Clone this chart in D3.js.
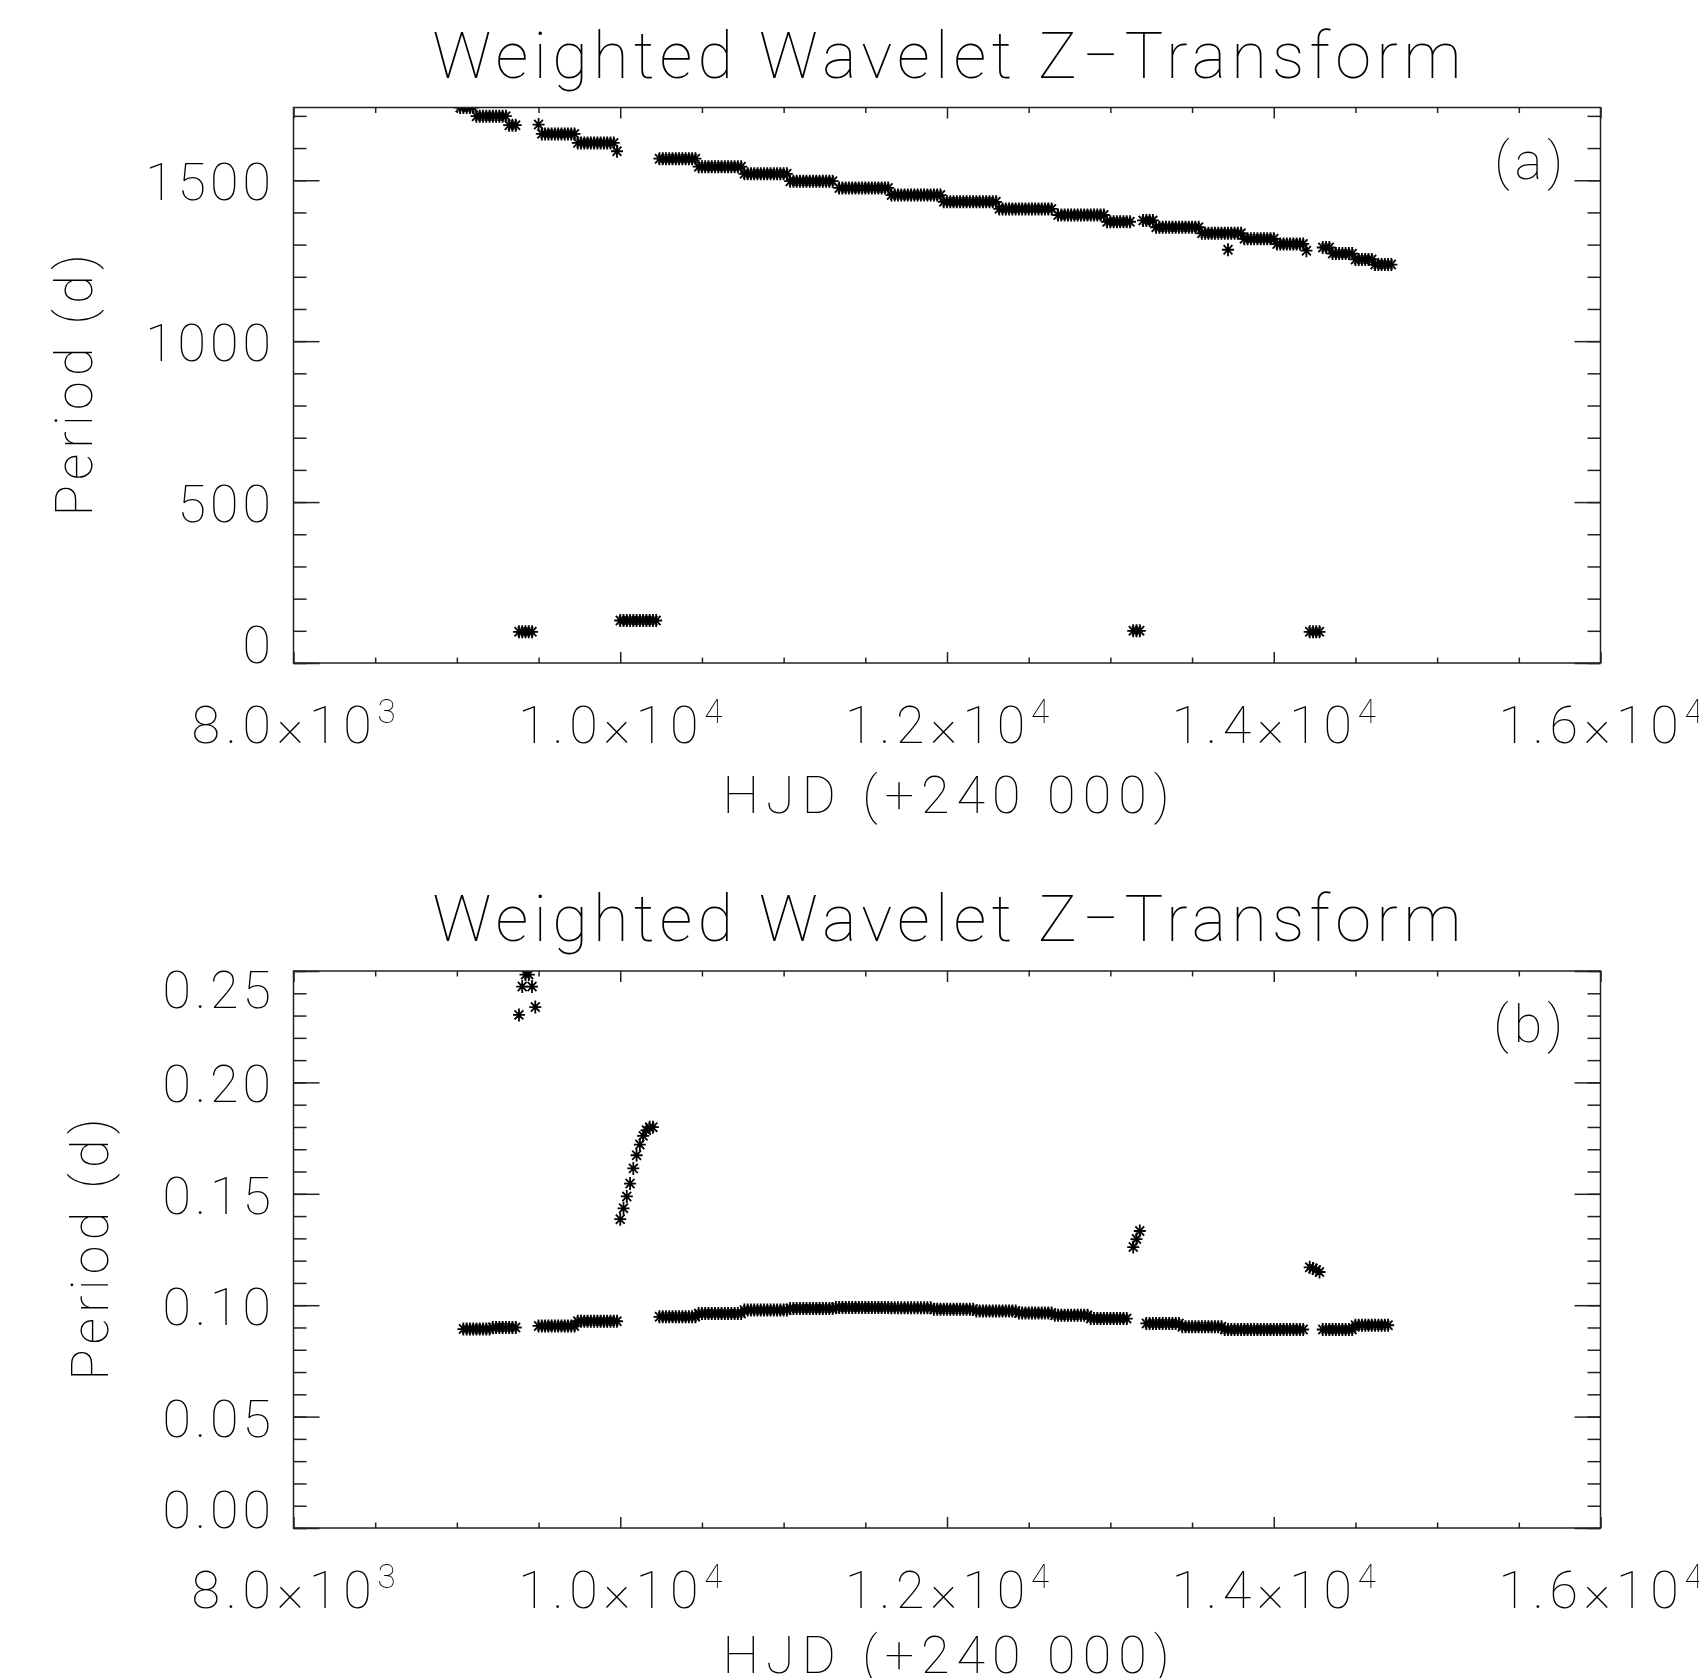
<!DOCTYPE html>
<html>
<head>
<meta charset="utf-8">
<script src="https://cdn.jsdelivr.net/npm/d3@7"></script>
<style>
  body { margin: 0; background: #fff; }
  svg#chart { will-change: transform; }
  svg text { font-family: Roboto, Lato, "DejaVu Sans", sans-serif; font-weight: 100; fill: #000; }
</style>
</head>
<body>
<svg id="chart" width="1699" height="1678"></svg>
<script>
/* Data */
var gridStep = 20; // WWZ time grid (days)

// x axis (shared)
var xDomain = [8000, 16000];
var xMajor = [8000, 10000, 12000, 14000, 16000];
var xMantissa = ["8.0", "1.0", "1.2", "1.4", "1.6"];
var xExponent = ["3", "4", "4", "4", "4"];

// panel (a): runs of constant period  [start HJD, end HJD, period]
var aRunStart  = [9020, 9120, 9320, 9500, 9520, 9740, 9980, 10240, 10480, 10760, 11040, 11340, 11660, 11980,
                  12320, 12680, 12980, 13200, 13280, 13560, 13720, 13820, 14020, 14200, 14300, 14360, 14500, 14620];
var aRunEnd    = [9100, 9300, 9360, 9500, 9720, 9960, 9980, 10460, 10740, 11020, 11300, 11640, 11960, 12300,
                  12640, 12960, 13120, 13260, 13540, 13800, 13720, 14000, 14180, 14200, 14340, 14480, 14600, 14720];
var aRunPeriod = [1726, 1699, 1671, 1673, 1644, 1616, 1590, 1567, 1542, 1520, 1497, 1476, 1454, 1433,
                  1411, 1392, 1371, 1375, 1354, 1335, 1284, 1318, 1302, 1281, 1291, 1272, 1254, 1238];
// panel (a): short-period detections
var aLowStart  = [9380, 10000, 13140, 14220];
var aLowEnd    = [9460, 10220, 13180, 14280];
var aLowPeriod = [97, 132, 100, 97];
var aYDomain = [0, 1726];
var aYMajor = [0, 500, 1000, 1500];
var aYLabels = ["0", "500", "1000", "1500"];

// panel (b): runs of constant period
var bRunStart  = [9040, 9220, 9500, 9740, 10240, 10480, 10760, 11040, 11320, 11660, 11920, 12180, 12440, 12660,
                  12880, 13220, 13440, 13700, 14300, 14500];
var bRunEnd    = [9200, 9360, 9720, 9980, 10460, 10740, 11020, 11300, 11640, 11900, 12160, 12420, 12640, 12860,
                  13100, 13420, 13680, 14180, 14480, 14700];
var bRunPeriod = [0.0893, 0.0900, 0.0907, 0.0928, 0.0948, 0.0963, 0.0978, 0.0985, 0.0990, 0.0988, 0.0982, 0.0974,
                  0.0965, 0.0955, 0.0940, 0.0918, 0.0903, 0.0891, 0.0891, 0.0910];
// panel (b): isolated detections
var bPtHJD    = [9380, 9400, 9420, 9440, 9460, 9480,
                 10000, 10020, 10040, 10060, 10080, 10100, 10120, 10140, 10160, 10180, 10200,
                 13140, 13160, 13180, 14220, 14240, 14260, 14280];
var bPtPeriod = [0.2303, 0.2430, 0.2484, 0.2484, 0.2430, 0.2338,
                 0.1386, 0.1435, 0.1488, 0.1546, 0.1614, 0.1673, 0.1721, 0.1760, 0.1785, 0.1799, 0.1799,
                 0.1261, 0.1297, 0.1333, 0.1170, 0.1165, 0.1158, 0.1149];
var bYDomain = [0, 0.25];
var bYMajor = [0, 0.05, 0.10, 0.15, 0.20, 0.25];
var bYLabels = ["0.00", "0.05", "0.10", "0.15", "0.20", "0.25"];

var titleText = "Weighted Wavelet Z\u2212Transform";
var xTitle = "HJD (+240 000)";
var yTitle = "Period (d)";

/* Layout */
var left = 293.5, right = 1600.5;
var star = "M-6,0H6M0,-6.5V6.5M-4.4,-4.6L4.4,4.6M-4.4,4.6L4.4,-4.6";

var svg = d3.select("svg#chart");

var x = d3.scaleLinear().domain(xDomain).range([left, right]);

function runsToPoints(starts, ends, periods) {
  var pts = [];
  starts.forEach(function (s, i) {
    d3.range(s, ends[i] + 1, gridStep).forEach(function (t) {
      pts.push({ t: t, p: periods[i] });
    });
  });
  return pts;
}

function drawPanel(cfg) {
  var y = d3.scaleLinear().domain(cfg.yDomain).range([cfg.bottom, cfg.top]);
  var g = svg.append("g");

  g.append("clipPath").attr("id", "clip-" + cfg.id)
    .append("rect")
    .attr("x", left).attr("y", cfg.top)
    .attr("width", right - left).attr("height", cfg.bottom - cfg.top);

  // stars
  g.append("g")
    .attr("clip-path", "url(#clip-" + cfg.id + ")")
    .selectAll("path.star")
    .data(cfg.points)
    .enter()
    .append("path")
    .attr("class", "star")
    .attr("d", star)
    .attr("transform", function (d) { return "translate(" + x(d.t) + "," + y(d.p) + ")"; })
    .attr("fill", "none")
    .attr("stroke", "#000")
    .attr("stroke-width", 1.8);

  // ticks, all four sides, pointing inward
  var xMinor = d3.range(xDomain[0], xDomain[1] + 1, 500).filter(function (v) { return v % 2000 !== 0; });
  var yMinor = d3.range(cfg.yDomain[0], cfg.yDomain[1] + cfg.minorStep / 2, cfg.minorStep);
  var xl = 11, yl = 26;

  function tickAxis(axis, tx, ty) {
    var a = g.append("g")
      .attr("transform", "translate(" + tx + "," + ty + ")")
      .call(axis.tickFormat("").tickSizeOuter(0));
    a.select(".domain").remove();
    a.selectAll("line").attr("stroke", "#222").attr("stroke-width", 1.5);
  }
  tickAxis(d3.axisBottom(x).tickValues(xMajor).tickSize(-xl), 0, cfg.bottom);
  tickAxis(d3.axisBottom(x).tickValues(xMinor).tickSize(-xl / 2), 0, cfg.bottom);
  tickAxis(d3.axisTop(x).tickValues(xMajor).tickSize(-xl), 0, cfg.top);
  tickAxis(d3.axisTop(x).tickValues(xMinor).tickSize(-xl / 2), 0, cfg.top);
  tickAxis(d3.axisLeft(y).tickValues(cfg.yMajor).tickSize(-yl), left, 0);
  tickAxis(d3.axisLeft(y).tickValues(yMinor).tickSize(-yl / 2), left, 0);
  tickAxis(d3.axisRight(y).tickValues(cfg.yMajor).tickSize(-yl), right, 0);
  tickAxis(d3.axisRight(y).tickValues(yMinor).tickSize(-yl / 2), right, 0);

  g.append("rect")
    .attr("x", left).attr("y", cfg.top)
    .attr("width", right - left).attr("height", cfg.bottom - cfg.top)
    .attr("fill", "none").attr("stroke", "#222").attr("stroke-width", 1.5);

  // y tick labels (edge labels kept inside the axis range)
  g.selectAll("text.ylab")
    .data(cfg.yMajor)
    .enter()
    .append("text")
    .attr("class", "ylab")
    .attr("x", 275)
    .attr("y", function (d, i) {
      var yy = y(d);
      if (Math.abs(yy - cfg.bottom) < 1) return cfg.bottom;
      if (Math.abs(yy - cfg.top) < 1) return cfg.top + 37;
      return yy + 20;
    })
    .attr("text-anchor", "end")
    .attr("font-size", 52)
    .attr("letter-spacing", 4)
    .text(function (d, i) { return cfg.yLabels[i]; });

  // x tick labels with exponent
  var xl2 = g.selectAll("text.xlab")
    .data(xMajor)
    .enter()
    .append("text")
    .attr("class", "xlab")
    .attr("x", function (d) { return x(d); })
    .attr("y", cfg.bottom + 80)
    .attr("text-anchor", "middle")
    .attr("font-size", 52)
    .attr("textLength", 204)
    .attr("lengthAdjust", "spacing");
  xl2.append("tspan").text(function (d, i) { return xMantissa[i] + "\u00d710"; });
  xl2.append("tspan").attr("dy", -20).attr("font-size", 33).text(function (d, i) { return xExponent[i]; });

  // titles
  g.append("text")
    .attr("x", (left + right) / 2).attr("y", cfg.top - 30)
    .attr("text-anchor", "middle").attr("font-size", 65)
    .attr("textLength", 1029).attr("lengthAdjust", "spacing")
    .text(titleText);

  g.append("text")
    .attr("x", (left + right) / 2 - 1).attr("y", cfg.bottom + cfg.xTitleDy)
    .attr("text-anchor", "middle").attr("font-size", 52)
    .attr("textLength", 447).attr("lengthAdjust", "spacing")
    .text(xTitle);

  g.append("text")
    .attr("transform", "translate(" + cfg.yTitleX + "," + (cfg.top + cfg.bottom) / 2 + ") rotate(-90)")
    .attr("text-anchor", "middle").attr("font-size", 52)
    .attr("textLength", 262).attr("lengthAdjust", "spacing")
    .text(yTitle);

  g.append("text")
    .attr("x", 1568).attr("y", cfg.top + 71)
    .attr("text-anchor", "end").attr("font-size", 52)
    .attr("letter-spacing", 5)
    .text(cfg.tag);
}

/* Actions */
drawPanel({
  id: "a", top: 107.5, bottom: 663, tag: "(a)", yTitleX: 92, xTitleDy: 150,
  yDomain: aYDomain, yMajor: aYMajor, yLabels: aYLabels, minorStep: 100,
  points: runsToPoints(aRunStart, aRunEnd, aRunPeriod).concat(runsToPoints(aLowStart, aLowEnd, aLowPeriod))
});

drawPanel({
  id: "b", top: 971, bottom: 1528, tag: "(b)", yTitleX: 108, xTitleDy: 145,
  yDomain: bYDomain, yMajor: bYMajor, yLabels: bYLabels, minorStep: 0.01,
  points: runsToPoints(bRunStart, bRunEnd, bRunPeriod)
    .concat(bPtHJD.map(function (t, i) { return { t: t, p: bPtPeriod[i] }; }))
});
</script>
</body>
</html>
